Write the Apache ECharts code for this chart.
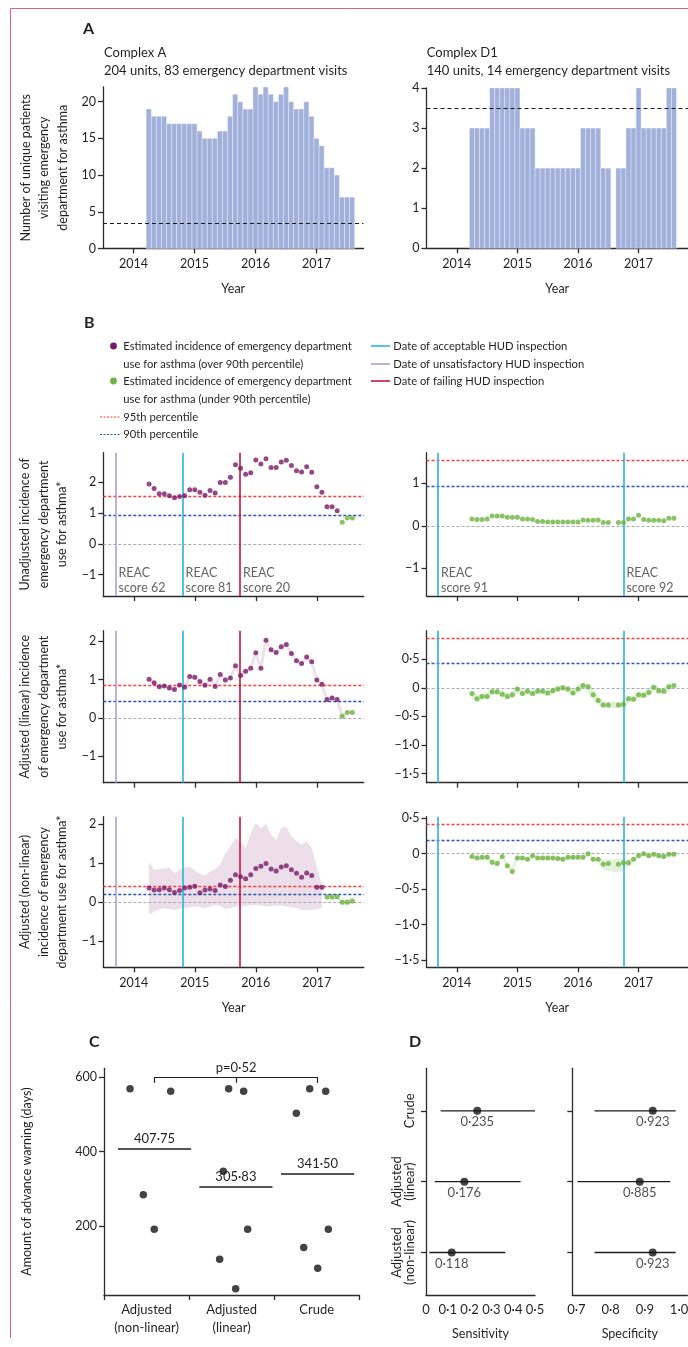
<!DOCTYPE html>
<html><head><meta charset="utf-8">
<script src="https://cdn.jsdelivr.net/npm/echarts@6/dist/echarts.min.js"></script>
<style>html,body{margin:0;padding:0;background:#fff}#c{width:688px;height:1347px}</style>
</head><body><div id="c"></div><script>
// ---------------- DATA ----------------
const FIRST_MONTH = 2014.25;            // centre of first monthly bin (Apr 2014)
const YEAR_TICKS = [2014, 2015, 2016, 2017];

// Panel A: monthly counts of unique patients
const COUNTS_A  = [19,18,18,18,17,17,17,17,17,17,16,15,15,15,16,16,18,21,20,19,19,22,21,22,21,20,21,22,20,19,19,20,18,15,14,11,11,10,7,7,7];
const COUNTS_D1 = [3,3,3,3,4,4,4,4,4,4,3,3,3,2,2,2,2,2,2,2,2,2,3,3,3,3,2,2,0,2,2,3,3,4,3,3,3,3,3,4,4];
const THRESH_A  = 3.45;
const THRESH_D1 = 3.5;

// Panel B: monthly estimated incidence
const UNADJ_A  = [1.95,1.80,1.63,1.63,1.57,1.50,1.54,1.57,1.76,1.76,1.68,1.58,1.74,1.66,2.00,2.00,2.17,2.58,2.46,2.27,2.32,2.73,2.60,2.77,2.49,2.49,2.67,2.72,2.55,2.38,2.34,2.51,2.33,1.86,1.68,1.21,1.21,1.08,0.70,0.84,0.84];
const UNADJ_D1 = [0.16,0.15,0.15,0.16,0.23,0.23,0.23,0.20,0.20,0.20,0.16,0.16,0.15,0.10,0.10,0.09,0.09,0.09,0.09,0.09,0.09,0.09,0.14,0.13,0.13,0.14,0.08,0.08,null,0.08,0.08,0.16,0.16,0.25,0.15,0.13,0.13,0.13,0.12,0.18,0.18];
const LIN_A    = [1.01,0.92,0.81,0.83,0.78,0.74,0.86,0.80,1.08,1.06,0.95,0.85,1.01,0.82,1.13,0.99,1.04,1.36,1.11,1.22,1.30,1.70,1.30,2.03,1.78,1.71,1.86,1.92,1.68,1.49,1.42,1.59,1.47,0.99,0.88,0.48,0.52,0.48,0.04,0.14,0.14];
const LIN_D1   = [-0.10,-0.19,-0.15,-0.15,-0.07,-0.07,-0.11,-0.15,-0.12,-0.02,-0.10,-0.06,-0.10,-0.06,-0.06,-0.09,-0.05,-0.02,0.0,-0.02,-0.09,-0.02,0.04,0.02,-0.12,-0.22,-0.30,-0.30,null,-0.30,-0.29,-0.19,-0.20,-0.12,-0.13,-0.08,0.01,-0.05,-0.06,0.02,0.04];
const NONLIN_A = [0.36,0.31,0.32,0.36,0.32,0.25,0.30,0.36,0.38,0.41,0.24,0.31,0.34,0.30,0.44,0.40,0.56,0.70,0.65,0.60,0.70,0.86,0.92,0.99,0.85,0.80,0.90,0.93,0.83,0.74,0.64,0.75,0.68,0.38,0.38,0.13,0.13,0.14,0.00,0.00,0.03];
const NONLIN_D1= [-0.04,-0.06,-0.05,-0.05,-0.12,-0.14,-0.04,-0.17,-0.25,-0.06,-0.06,-0.08,-0.03,-0.06,-0.06,-0.06,-0.06,-0.07,-0.08,-0.05,-0.05,-0.05,-0.05,0.00,-0.08,-0.08,-0.15,-0.14,null,-0.15,-0.13,-0.13,-0.08,-0.03,0.0,-0.03,-0.01,-0.03,-0.04,-0.01,-0.01];
// confidence bands (non-linear model)
const NONLIN_A_HI = [1.04,0.83,0.85,0.87,0.89,0.74,0.83,0.90,0.91,0.81,0.72,0.68,0.79,0.85,0.97,1.26,1.43,1.64,1.56,1.38,1.77,2.03,1.90,2.01,1.73,1.60,1.90,1.94,1.68,1.57,1.47,1.56,1.38,0.91,0.44];
const NONLIN_A_LO = [-0.32,-0.24,-0.18,-0.15,-0.18,-0.20,-0.16,-0.15,-0.13,-0.11,-0.13,-0.15,-0.11,-0.07,-0.09,-0.18,-0.15,-0.11,-0.09,-0.11,-0.07,-0.07,-0.09,-0.11,-0.11,-0.09,-0.09,-0.11,-0.13,-0.15,-0.20,-0.20,-0.20,-0.18,-0.15];
const NONLIN_A_G_HI = [0.20,0.20,0.21,0.08,0.08,0.10];
const NONLIN_A_G_LO = [0.06,0.06,0.07,-0.07,-0.07,-0.04];
const NONLIN_D1_HI = [-0.02,-0.03,-0.02,-0.02,-0.08,-0.10,-0.01,-0.12,-0.18,-0.03,-0.03,-0.05,-0.01,-0.03,-0.03,-0.03,-0.03,-0.04,-0.05,-0.02,-0.02,-0.02,-0.02,0.02,-0.05,-0.05,-0.09,-0.08,-0.08,-0.07,-0.07,-0.08,-0.05,0.00,0.02,0.00,0.01,0.00,-0.01,0.02,0.02];
const NONLIN_D1_LO = [-0.07,-0.09,-0.08,-0.08,-0.16,-0.18,-0.08,-0.22,-0.30,-0.09,-0.09,-0.11,-0.06,-0.09,-0.09,-0.09,-0.09,-0.10,-0.11,-0.08,-0.08,-0.08,-0.08,-0.03,-0.11,-0.12,-0.22,-0.24,-0.26,-0.27,-0.22,-0.19,-0.11,-0.06,-0.03,-0.06,-0.04,-0.06,-0.07,-0.04,-0.04];
// percentiles per model row: unadjusted, linear, non-linear
const P95 = [1.55, 0.86, 0.42];
const P90 = [0.93, 0.43, 0.19];
// HUD inspections
const INSP_A_DATES  = [2013.70, 2014.80, 2015.74];
const INSP_A_KINDS  = ['unsatisfactory', 'acceptable', 'failing'];
const INSP_A_SCORES = [62, 81, 20];
const INSP_D1_DATES  = [2013.69, 2016.75];
const INSP_D1_KINDS  = ['acceptable', 'acceptable'];
const INSP_D1_SCORES = [91, 92];

// Panel C: advance warning (days); x = jittered position in category units
const C_CATS = ['Adjusted\n(non-linear)', 'Adjusted\n(linear)', 'Crude'];
const C_NL_X  = [0.306, 0.784, 0.462, 0.591];
const C_NL_Y  = [569, 562, 284, 191];
const C_LIN_X = [1.465, 1.641, 1.402, 1.688, 1.359, 1.547];
const C_LIN_Y = [569, 562, 347, 191, 110, 31];
const C_CR_X  = [2.417, 2.605, 2.260, 2.636, 2.347, 2.511];
const C_CR_Y  = [569, 562, 503, 191, 142, 86];
const C_MEANS = [407.75, 305.83, 341.50];
const C_MEAN_POS = [0.594, 1.55, 2.51];
const C_P_TEXT = 'p=0·52';

// Panel D
const D_CATS = ['Adjusted\n(non-linear)', 'Adjusted\n(linear)', 'Crude'];
const D_POS = [1, 2, 3];
const SENS    = [0.118, 0.176, 0.235];
const SENS_LO = [0.015, 0.040, 0.067];
const SENS_HI = [0.364, 0.434, 0.500];
const SPEC    = [0.923, 0.885, 0.923];
const SPEC_LO = [0.753, 0.703, 0.753];
const SPEC_HI = [0.990, 0.974, 0.990];

// ---------------- STYLE ----------------
const FONT = 'Lato, "Open Sans", sans-serif';
const FS = 12.5;
const TXT = '#231f20', AX = '#2b2b2b';
const BAR = '#a2b1db';
const PURPLE = '#7b1a66', GREEN = '#6cb43f';
const INSP_COLOR = {acceptable: '#2bb3dc', unsatisfactory: '#b39bd3', failing: '#c8163b'};
const RED = '#ff3a3a', BLUE = '#2a55b5', GREY = '#a3abb3';
const BORDER = '#e0607f';

const xm = i => FIRST_MONTH + i / 12;
function fmt(v, dec) {
  if (Math.abs(v) < 1e-9) return '0';
  const s = Math.abs(v).toFixed(dec).replace('.', '·');
  return (v < 0 ? '−' : '') + s;
}
const axLine = {show: true, onZero: false, lineStyle: {color: AX, width: 1.3}};
const tickStyle = {color: AX, width: 1.3};
const nameStyle = {color: TXT, fontFamily: FONT, fontSize: FS, lineHeight: 18.5};

function timeAxis(gi, max, labels, name) {
  return {type: 'value', gridIndex: gi, min: 2013.5, max: max,
    axisLine: axLine,
    axisTick: {show: true, customValues: YEAR_TICKS, length: 5, lineStyle: tickStyle},
    axisLabel: {show: labels, customValues: YEAR_TICKS, formatter: v => String(Math.round(v)), color: TXT, fontFamily: FONT, fontSize: FS, margin: 9},
    splitLine: {show: false},
    name: name || '', nameLocation: 'middle', nameGap: 31, nameTextStyle: nameStyle};
}
function valAxis(gi, min, max, ticks, dec, name, gap) {
  return {type: 'value', gridIndex: gi, min: min, max: max,
    axisLine: axLine,
    axisTick: {show: true, customValues: ticks, length: 5, lineStyle: tickStyle},
    axisLabel: {show: true, customValues: ticks, formatter: v => fmt(v, dec), color: TXT, fontFamily: FONT, fontSize: FS, margin: 7},
    splitLine: {show: false},
    name: name || '', nameLocation: 'middle', nameRotate: 90, nameGap: gap || 31, nameTextStyle: nameStyle};
}

// ---------------- GRIDS ----------------
const LW = 260.5, RW = 261.5, LX = 103.3, RX = 426.5;
const grids = [
  {left: 103, top: 87, width: LW, height: 161.5},
  {left: RX, top: 88, width: RW, height: 160.3},
  {left: LX, top: 452.7, width: LW, height: 143.3},
  {left: RX, top: 452.7, width: RW, height: 143.3},
  {left: LX, top: 630.7, width: LW, height: 152},
  {left: RX, top: 630.7, width: RW, height: 152},
  {left: LX, top: 816.7, width: LW, height: 150.6},
  {left: RX, top: 816.7, width: RW, height: 150.6},
  {left: 104, top: 1068.3, width: 255.3, height: 226.7},
  {left: 426, top: 1068.3, width: 109, height: 226.7},
  {left: 572.3, top: 1068.3, width: 115, height: 226.7}
].map(g => Object.assign({containLabel: false, outerBoundsMode: 'none'}, g));

const LMAX = 2017.77, RMAX = 2017.815;
const xAxes = [
  timeAxis(0, LMAX, true, 'Year'),
  timeAxis(1, RMAX, true, 'Year'),
  timeAxis(2, LMAX, false), timeAxis(3, RMAX, false),
  timeAxis(4, LMAX, false), timeAxis(5, RMAX, false),
  timeAxis(6, LMAX, true, 'Year'), timeAxis(7, RMAX, true, 'Year'),
  {type: 'category', gridIndex: 8, data: C_CATS, boundaryGap: true,
   axisLine: axLine, axisTick: {show: true, alignWithLabel: false, length: 5, lineStyle: tickStyle},
   axisLabel: {color: TXT, fontFamily: FONT, fontSize: 13, lineHeight: 18, margin: 6}},
  {type: 'value', gridIndex: 8, min: 0, max: 3, show: false},
  {type: 'value', gridIndex: 9, min: 0, max: 0.5, interval: 0.1, axisLine: axLine,
   axisTick: {show: false}, splitLine: {show: false},
   axisLabel: {formatter: v => fmt(v, 1), color: TXT, fontFamily: FONT, fontSize: 13, margin: 8},
   name: 'Sensitivity', nameLocation: 'middle', nameGap: 30, nameTextStyle: nameStyle},
  {type: 'value', gridIndex: 10, min: 0.688, max: 1.024, axisLine: axLine,
   axisTick: {show: false, customValues: [0.7, 0.8, 0.9, 1.0]}, splitLine: {show: false},
   axisLabel: {customValues: [0.7, 0.8, 0.9, 1.0], formatter: v => fmt(v, 1), color: TXT, fontFamily: FONT, fontSize: 13, margin: 8},
   name: 'Specificity', nameLocation: 'middle', nameGap: 30, nameTextStyle: nameStyle}
];
const yAxes = [
  valAxis(0, 0, 22, [0, 5, 10, 15, 20], 0, 'Number of unique patients\nvisiting emergency\ndepartment for asthma', 31),
  valAxis(1, 0, 4, [0, 1, 2, 3, 4], 0),
  valAxis(2, -1.7, 2.97, [-1, 0, 1, 2], 0, 'Unadjusted incidence of\nemergency department\nuse for asthma*', 32),
  valAxis(3, -1.65, 1.72, [-1, 0, 1], 0),
  valAxis(4, -1.7, 2.28, [-1, 0, 1, 2], 0, 'Adjusted (linear) incidence\nof emergency department\nuse for asthma*', 32),
  valAxis(5, -1.66, 1.0, [-1.5, -1, -0.5, 0, 0.5], 1),
  valAxis(6, -1.67, 2.19, [-1, 0, 1, 2], 0, 'Adjusted (non-linear)\nincidence of emergency\ndepartment use for asthma*', 32),
  valAxis(7, -1.6, 0.52, [-1.5, -1, -0.5, 0, 0.5], 1),
  valAxis(8, 14, 624, [200, 400, 600], 0, 'Amount of advance warning (days)', 68),
  {type: 'value', gridIndex: 9, min: 0.4, max: 3.6, axisLine: axLine, splitLine: {show: false},
   axisTick: {show: true, customValues: D_POS, length: 5, lineStyle: tickStyle},
   axisLabel: {customValues: D_POS, rotate: 90, formatter: v => D_CATS[Math.round(v) - 1], color: TXT, fontFamily: FONT, fontSize: 13, lineHeight: 12.5, margin: 10}},
  {type: 'value', gridIndex: 10, min: 0.4, max: 3.6, axisLine: axLine, splitLine: {show: false},
   axisTick: {show: true, customValues: D_POS, length: 5, lineStyle: tickStyle},
   axisLabel: {show: false}}
];

// ---------------- SERIES ----------------
const series = [];
function bars(ai, counts, thr) {
  series.push({type: 'custom', xAxisIndex: ai, yAxisIndex: ai, silent: true,
    data: counts.map((c, i) => [xm(i), c]), encode: {x: 0, y: 1},
    renderItem: (p, api) => {
      const x = api.value(0), y = api.value(1);
      if (!y) return {type: 'group', children: []};
      const a = api.coord([x - 1 / 24, y]), b = api.coord([x + 1 / 24, 0]);
      return {type: 'rect', shape: {x: a[0], y: a[1], width: b[0] - a[0], height: b[1] - a[1]},
        style: {fill: BAR, stroke: 'rgba(255,255,255,0.55)', lineWidth: 0.6}};
    },
    markLine: {silent: true, symbol: 'none', label: {show: false},
      lineStyle: {color: '#1a1a1a', type: [4, 3], width: 1.2}, data: [{yAxis: thr}]}
  });
}
bars(0, COUNTS_A, THRESH_A);
bars(1, COUNTS_D1, THRESH_D1);

function band(ai, idx0, lo, hi, color) {
  series.push({type: 'custom', xAxisIndex: ai, yAxisIndex: ai, silent: true, z: 1,
    data: [[xm(idx0), lo[0]]], encode: {x: 0, y: 1},
    renderItem: (p, api) => {
      const top = [], bot = [];
      for (let i = 0; i < lo.length; i++) {
        top.push(api.coord([xm(idx0 + i), hi[i]]));
        bot.push(api.coord([xm(idx0 + i), lo[i]]));
      }
      return {type: 'polygon', shape: {points: top.concat(bot.reverse())}, style: {fill: color}};
    }});
}
function thinBand(ai, vals, color, width) {
  series.push({type: 'line', xAxisIndex: ai, yAxisIndex: ai, silent: true, z: 1, symbol: 'none',
    connectNulls: true, lineStyle: {color: color, width: width},
    data: vals.map((v, i) => [xm(i), v])});
}
function panelB(ai, row, vals, dates, kinds, scores, reacY) {
  const showReac = reacY != null;
  series.push({type: 'scatter', xAxisIndex: ai, yAxisIndex: ai, silent: true, z: 2,
    symbolSize: 2, itemStyle: {color: 'rgba(0,0,0,0)'},
    data: showReac ? dates.map(d => [d, reacY]) : [[2013.5, 0]],
    label: {show: showReac, position: 'right', distance: 2, align: 'left',
      formatter: p => 'REAC\nscore ' + scores[p.dataIndex],
      color: '#3a3a3a', fontFamily: FONT, fontSize: FS, lineHeight: 15.5},
    markLine: {silent: true, symbol: 'none', z: 2, label: {show: false},
      data: [
        {yAxis: 0, lineStyle: {color: GREY, type: [3, 2], width: 1.2}},
        {yAxis: P90[row], lineStyle: {color: BLUE, type: [3, 2], width: 1.3}},
        {yAxis: P95[row], lineStyle: {color: RED, type: [3, 2], width: 1.3}}
      ].concat(dates.map((d, i) => ({xAxis: d, lineStyle: {color: INSP_COLOR[kinds[i]], type: 'solid', width: 1.6}})))}
  });
  const over = [], under = [];
  vals.forEach((v, i) => { if (v == null) return; (v > P90[row] ? over : under).push([xm(i), v]); });
  series.push({type: 'scatter', xAxisIndex: ai, yAxisIndex: ai, silent: true, z: 3, symbolSize: 5,
    itemStyle: {color: PURPLE}, data: over});
  series.push({type: 'scatter', xAxisIndex: ai, yAxisIndex: ai, silent: true, z: 3, symbolSize: 5,
    itemStyle: {color: GREEN}, data: under});
}
// row 1
panelB(2, 0, UNADJ_A, INSP_A_DATES, INSP_A_KINDS, INSP_A_SCORES, -1.2);
panelB(3, 0, UNADJ_D1, INSP_D1_DATES, INSP_D1_KINDS, INSP_D1_SCORES, -1.28);
// row 2
thinBand(4, LIN_A, 'rgba(123,26,102,0.13)', 3);
panelB(4, 1, LIN_A, INSP_A_DATES, INSP_A_KINDS, INSP_A_SCORES, null);
thinBand(5, LIN_D1, 'rgba(108,180,63,0.2)', 6);
panelB(5, 1, LIN_D1, INSP_D1_DATES, INSP_D1_KINDS, INSP_D1_SCORES, null);
// row 3
band(6, 0, NONLIN_A_LO, NONLIN_A_HI, 'rgba(123,26,102,0.14)');
band(6, 35, NONLIN_A_G_LO, NONLIN_A_G_HI, 'rgba(108,180,63,0.18)');
panelB(6, 2, NONLIN_A, INSP_A_DATES, INSP_A_KINDS, INSP_A_SCORES, null);
band(7, 0, NONLIN_D1_LO, NONLIN_D1_HI, 'rgba(108,180,63,0.18)');
panelB(7, 2, NONLIN_D1, INSP_D1_DATES, INSP_D1_KINDS, INSP_D1_SCORES, null);

// Panel C
const cPts = [].concat(
  C_NL_X.map((x, i) => [x, C_NL_Y[i]]),
  C_LIN_X.map((x, i) => [x, C_LIN_Y[i]]),
  C_CR_X.map((x, i) => [x, C_CR_Y[i]]));
const HALF = 0.43, BR_TOP = 600, BR_TICK = 585;
const cLabel = {show: true, position: 'middle', distance: 3, color: TXT, fontFamily: FONT, fontSize: 13};
series.push({type: 'scatter', xAxisIndex: 9, yAxisIndex: 8, silent: true, z: 3, symbolSize: 7.5,
  itemStyle: {color: '#141414'}, data: cPts,
  markLine: {silent: true, symbol: 'none', lineStyle: {color: '#1e1e1e', type: 'solid', width: 1.6},
    data: C_MEANS.map((m, i) => [
      {coord: [C_MEAN_POS[i] - HALF, m], label: Object.assign({formatter: fmt(m, 2)}, cLabel)},
      {coord: [C_MEAN_POS[i] + HALF, m]}]).concat([
      [{coord: [C_MEAN_POS[0], BR_TOP], lineStyle: {width: 1.2}, label: Object.assign({formatter: C_P_TEXT}, cLabel)},
       {coord: [C_MEAN_POS[2], BR_TOP]}]
    ]).concat(C_MEAN_POS.map(x => [
      {coord: [x, BR_TOP], lineStyle: {width: 1.2}, label: {show: false}}, {coord: [x, BR_TICK]}]))
  }});

// Panel D
function dPanel(xi, yi, vals, lo, hi) {
  series.push({type: 'custom', xAxisIndex: xi, yAxisIndex: yi, silent: true, z: 2,
    data: lo.map((l, i) => [l, hi[i], D_POS[i]]), encode: {x: [0, 1], y: 2},
    renderItem: (p, api) => {
      const a = api.coord([api.value(0), api.value(2)]), b = api.coord([api.value(1), api.value(2)]);
      return {type: 'line', shape: {x1: a[0], y1: a[1], x2: b[0], y2: b[1]}, style: {stroke: '#1e1e1e', lineWidth: 1.3}};
    }});
  series.push({type: 'scatter', xAxisIndex: xi, yAxisIndex: yi, silent: true, z: 3, symbolSize: 8,
    itemStyle: {color: '#141414'}, data: vals.map((v, i) => [v, D_POS[i]]),
    label: {show: true, position: 'bottom', distance: 1, formatter: p => fmt(p.value[0], 3),
      color: TXT, fontFamily: FONT, fontSize: 13}});
}
dPanel(10, 9, SENS, SENS_LO, SENS_HI);
dPanel(11, 10, SPEC, SPEC_LO, SPEC_HI);

// ---------------- GRAPHIC (titles, legend, frame) ----------------
function txt(x, y, text, extra) {
  return {type: 'text', x: x, y: y, silent: true,
    style: Object.assign({text: text, fill: TXT, fontFamily: FONT, fontSize: 13, verticalAlign: 'middle', align: 'left'}, extra || {})};
}
const bold = {fontWeight: 'bold', fontSize: 16};
const lg = {fontSize: 11.2};
const G = [
  {type: 'line', silent: true, shape: {x1: 10.5, y1: 8.5, x2: 688, y2: 8.5}, style: {stroke: BORDER, lineWidth: 1}},
  {type: 'line', silent: true, shape: {x1: 10.5, y1: 8.5, x2: 10.5, y2: 1338}, style: {stroke: BORDER, lineWidth: 1}},
  txt(83, 29, 'A', bold),
  txt(104, 53, 'Complex A'),
  txt(104, 70.5, '204 units, 83 emergency department visits'),
  txt(426.7, 53, 'Complex D1'),
  txt(426.7, 70.5, '140 units, 14 emergency department visits'),
  txt(84, 323, 'B', bold),
  txt(89, 1042, 'C', bold),
  txt(409, 1042, 'D', bold),
  // legend
  {type: 'circle', silent: true, shape: {cx: 113.5, cy: 346, r: 3.4}, style: {fill: PURPLE}},
  txt(123.3, 346, 'Estimated incidence of emergency department', lg),
  txt(123.3, 364, 'use for asthma (over 90th percentile)', lg),
  {type: 'circle', silent: true, shape: {cx: 113.5, cy: 381, r: 3.4}, style: {fill: GREEN}},
  txt(123.3, 381, 'Estimated incidence of emergency department', lg),
  txt(123.3, 399, 'use for asthma (under 90th percentile)', lg),
  {type: 'line', silent: true, shape: {x1: 100, y1: 417, x2: 121, y2: 417}, style: {stroke: RED, lineWidth: 1.2, lineDash: [2, 1.5]}},
  txt(123.3, 417, '95th percentile', lg),
  {type: 'line', silent: true, shape: {x1: 100, y1: 434.5, x2: 121, y2: 434.5}, style: {stroke: BLUE, lineWidth: 1.2, lineDash: [2, 1.5]}},
  txt(123.3, 434.5, '90th percentile', lg),
  {type: 'line', silent: true, shape: {x1: 371, y1: 346, x2: 390, y2: 346}, style: {stroke: INSP_COLOR.acceptable, lineWidth: 1.6}},
  txt(393.3, 346, 'Date of acceptable HUD inspection', lg),
  {type: 'line', silent: true, shape: {x1: 371, y1: 364, x2: 390, y2: 364}, style: {stroke: INSP_COLOR.unsatisfactory, lineWidth: 1.6}},
  txt(393.3, 364, 'Date of unsatisfactory HUD inspection', lg),
  {type: 'line', silent: true, shape: {x1: 371, y1: 381, x2: 390, y2: 381}, style: {stroke: INSP_COLOR.failing, lineWidth: 1.6}},
  txt(393.3, 381, 'Date of failing HUD inspection', lg)
];

const chart = echarts.init(document.getElementById('c'), null, {renderer: 'canvas'});
chart.setOption({
  animation: false,
  backgroundColor: '#fff',
  textStyle: {fontFamily: FONT},
  grid: grids, xAxis: xAxes, yAxis: yAxes, series: series,
  graphic: {elements: G}
});
</script></body></html>
